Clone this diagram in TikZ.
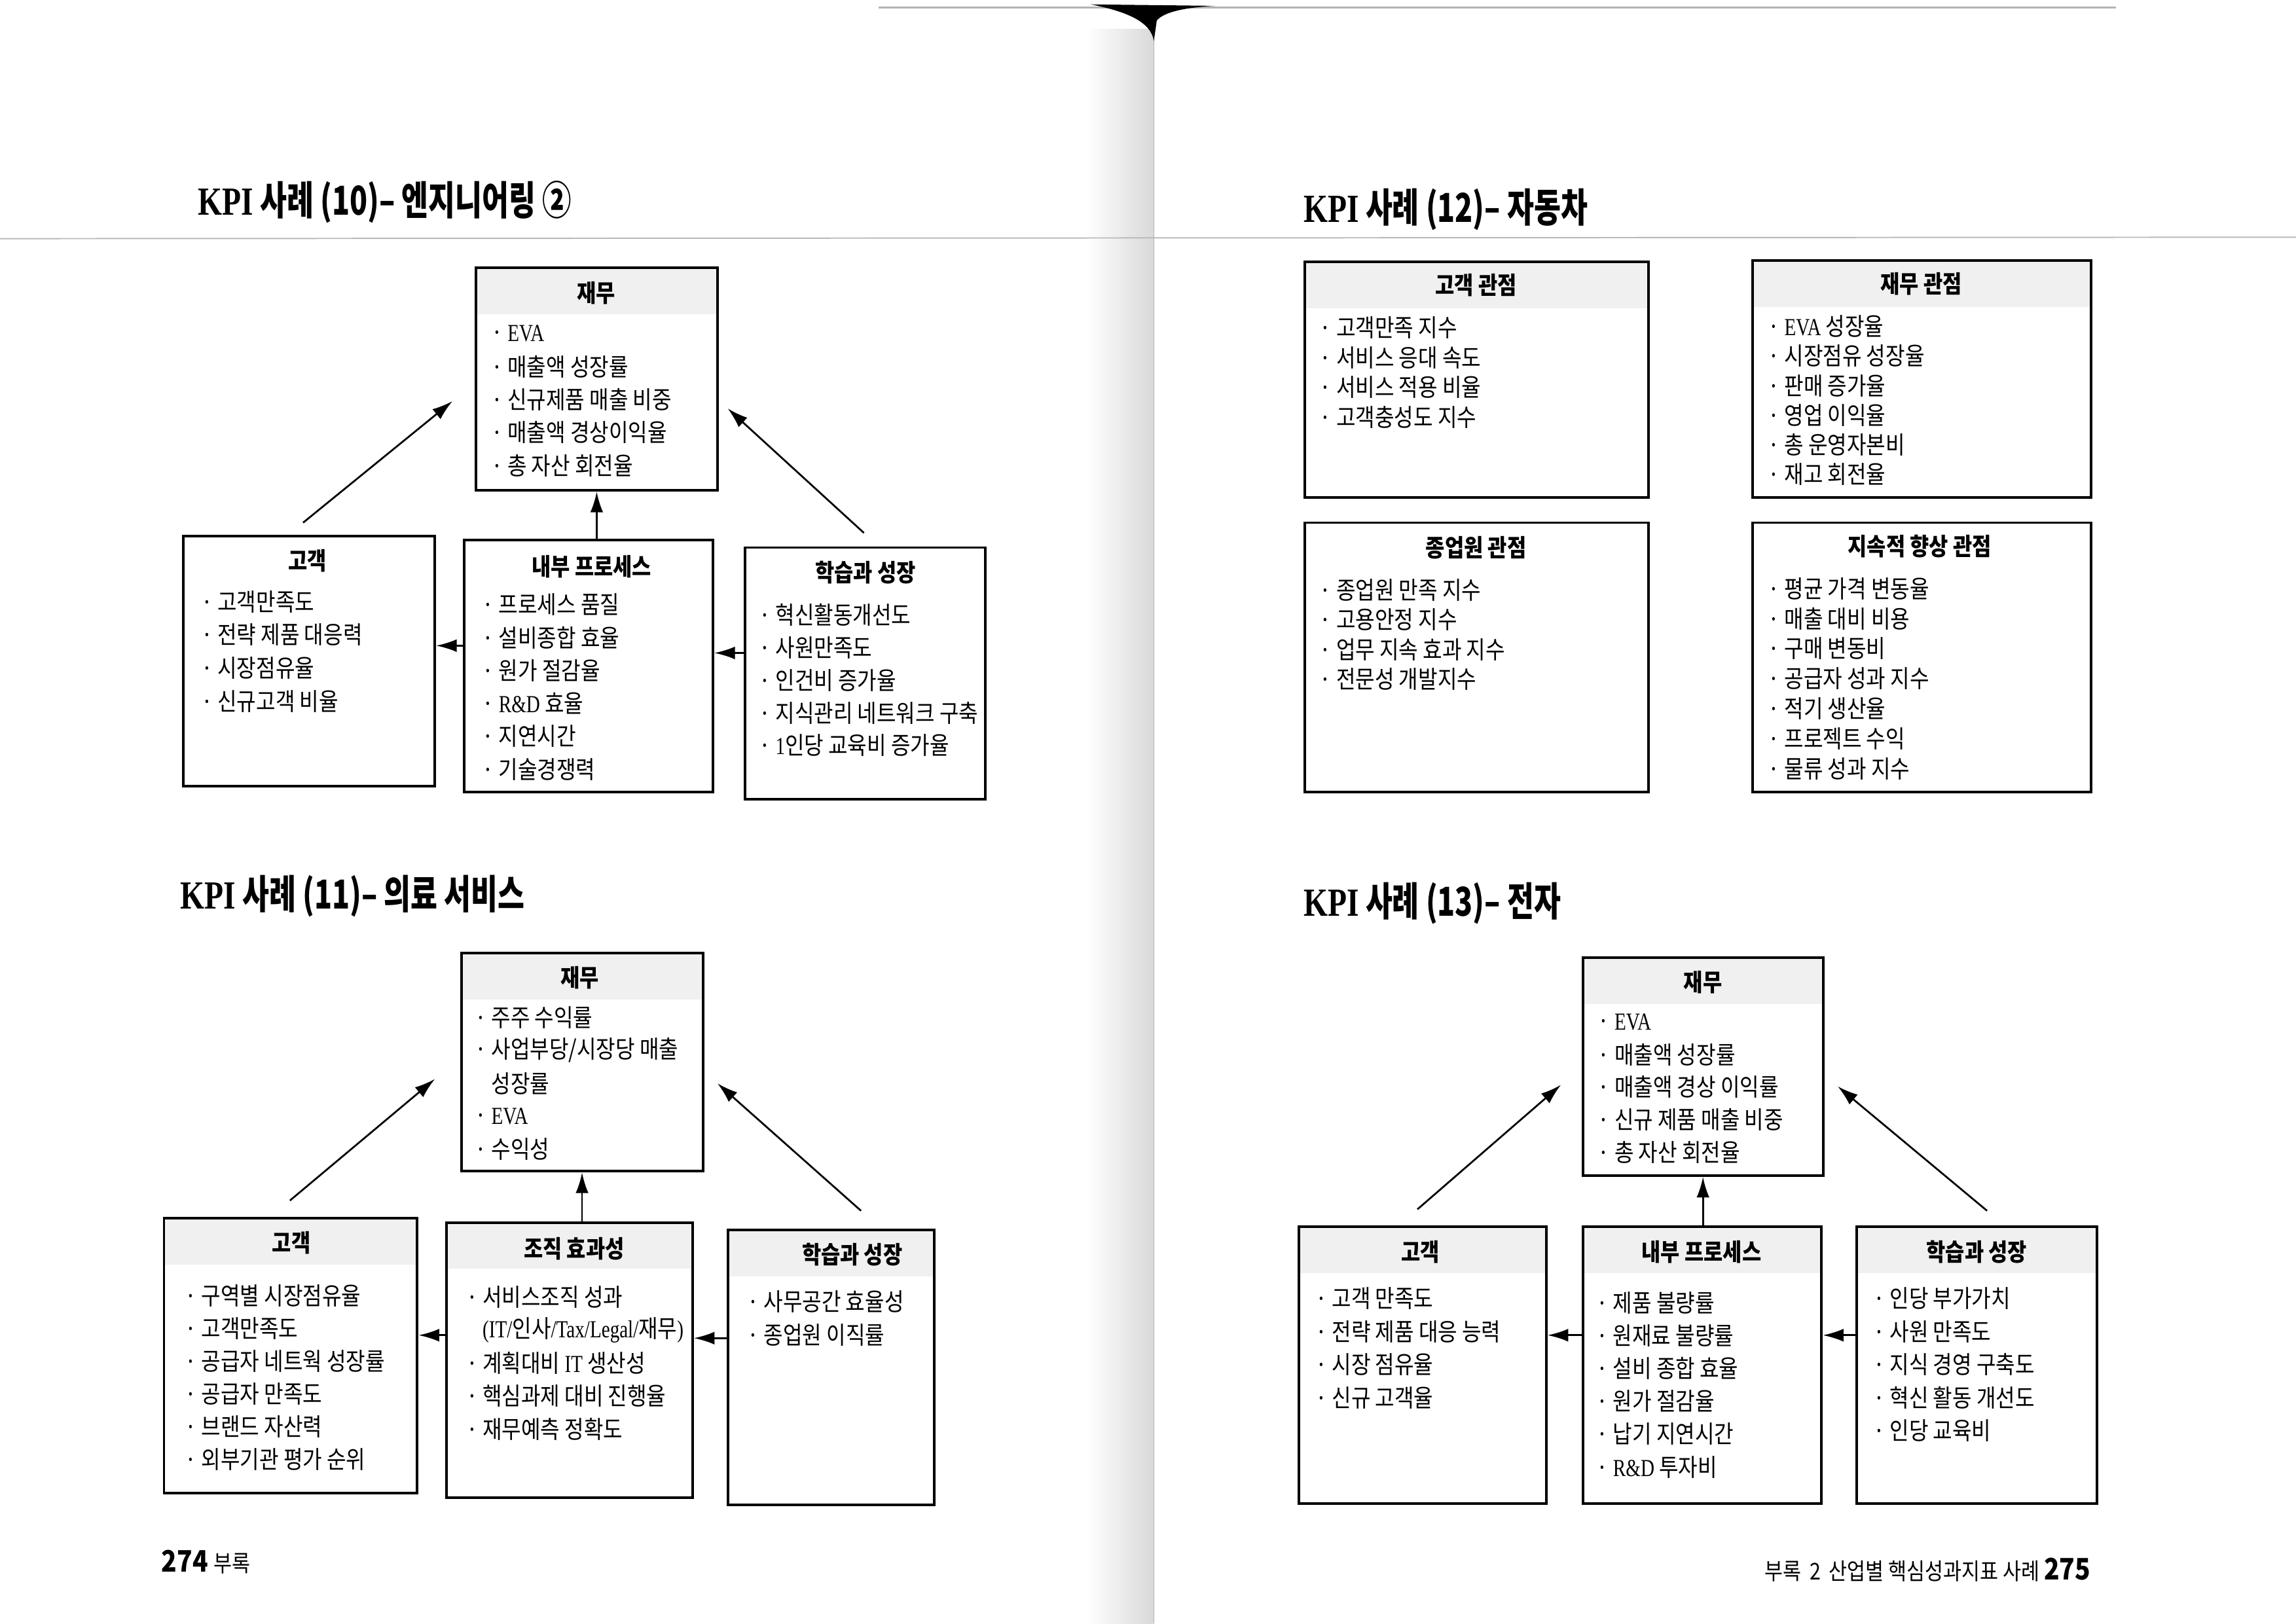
\documentclass[tikz,border=0pt]{standalone}
\usepackage{fontspec}
\setmainfont{Noto Sans CJK KR}[FakeStretch=0.86]
\newfontfamily\ttlfont{Noto Sans CJK KR}[FakeStretch=0.73]
\newfontfamily\latnfam{Liberation Serif}[FakeStretch=0.78]
\newcommand\lat[1]{{\latnfam #1}}
\usetikzlibrary{arrows.meta,fit}
\newcommand\kitems[5]{\foreach \t [count=\i] in {#5}{\node[itm] (#1-\i) at (#2,{#3+(\i-1)*#4}) {\t};}}
\tikzset{
 box/.style={draw, line width=1pt, inner sep=0pt, rectangle},
 shd/.style={path picture={\fill[gray!12] (path picture bounding box.north west) rectangle ([yshift=-18pt]path picture bounding box.north east);}},
 hdr/.style={font=\bfseries\fontsize{9.4}{11}\selectfont, inner sep=0pt},
 itm/.style={anchor=west, inner sep=0pt, font=\fontsize{9.5}{11}\selectfont},
 ttl/.style={anchor=west, inner sep=0pt, font=\ttlfont\bfseries\fontsize{15.5}{16}\selectfont},
 arr/.style={line width=0.7pt, -{Latex[length=8pt,width=5pt]}},
}
\begin{document}
\begin{tikzpicture}[x=0.02cm, y=-0.02cm]
\fill[white] (0,0) rectangle (1568,1109);
\useasboundingbox (0,0) rectangle (1568,1109);
% spine and scan edges
\shade[left color=white, right color=gray!30] (742,20) rectangle (788,1109);
\draw[gray!60, line width=0.4pt] (788,25) -- (788,1109);
\draw[gray!60, line width=0.8pt] (600,5) -- (1445,5);
\fill (745,3) .. controls (770,8) and (786,15) .. (788,28) -- (790,14) .. controls (795,8) and (810,5) .. (830,4) -- cycle;
\draw[gray!55, line width=0.5pt] (0,163) -- (1568,162);

% ================= KPI 10 =================
\node[ttl] (t10) at (135,138) {\lat{\bfseries KPI} 사례 (10)– 엔지니어링 ②};
\node[box, shd, fit={(325,183) (490,335)}] (fin10) {};
\node[hdr] (fin10h) at (407,200) {재무};
\kitems{fin10}{335}{228}{22.5}{· \lat{EVA}, · 매출액 성장률, · 신규제품 매출 비중, · 매출액 경상이익율, · 총 자산 회전율}
\node[box, fit={(125,366) (297,537)}] (cus10) {};
\node[hdr] (cus10h) at (210,383) {고객};
\kitems{cus10}{137}{411}{22.7}{· 고객만족도, · 전략 제품 대응력, · 시장점유율, · 신규고객 비율}
\node[box, fit={(317,369) (487,541)}] (int10) {};
\node[hdr] (int10h) at (404,387) {내부 프로세스};
\kitems{int10}{329}{413}{22.5}{· 프로세스 품질, · 설비종합 효율, · 원가 절감율, · \lat{R\&D} 효율, · 지연시간, · 기술경쟁력}
\node[box, fit={(509,374) (673,546)}] (lrn10) {};
\node[hdr] (lrn10h) at (591,391) {학습과 성장};
\kitems{lrn10}{518}{420}{22.3}{· 혁신활동개선도, · 사원만족도, · 인건비 증가율, · 지식관리 네트워크 구축, · \lat{1}인당 교육비 증가율}
\coordinate (a10ls) at (207,357); \coordinate (a10le) at (309,274);
\coordinate (a10rs) at (590,364); \coordinate (a10re) at (497,279);
\coordinate (h10a) at (0,441); \coordinate (h10b) at (0,446);
\draw[arr] (a10ls) -- (a10le);
\draw[arr] (a10rs) -- (a10re);
\draw[arr] (int10.north -| fin10.south) -- (fin10.south);
\draw[arr] (int10.west |- h10a) -- (cus10.east |- h10a);
\draw[arr] (lrn10.west |- h10b) -- (int10.east |- h10b);

% ================= KPI 11 =================
\node[ttl] (t11) at (123,612) {\lat{\bfseries KPI} 사례 (11)– 의료 서비스};
\node[box, shd, fit={(315,651) (480,800)}] (fin11) {};
\node[hdr] (fin11h) at (396,668) {재무};
\kitems{fin11}{324}{695}{22.5}{· 주주 수익률, · 사업부당/시장당 매출, \phantom{· }성장률, · \lat{EVA}, · 수익성}
\node[box, shd, fit={(112,832) (285,1020)}] (cus11) {};
\node[hdr] (cus11h) at (199,849) {고객};
\kitems{cus11}{126}{885}{22.4}{· 구역별 시장점유율, · 고객만족도, · 공급자 네트웍 성장률, · 공급자 만족도, · 브랜드 자산력, · 외부기관 평가 순위}
\node[box, shd, fit={(305,835) (473,1023)}] (org11) {};
\node[hdr] (org11h) at (392,853) {조직 효과성};
\kitems{org11}{318}{886}{22.5}{· 서비스조직 성과, \phantom{· }\lat{(IT/}인사\lat{/Tax/Legal/}재무\lat{)}, · 계획대비 \lat{IT} 생산성, · 핵심과제 대비 진행율, · 재무예측 정확도}
\node[box, shd, fit={(497,840) (638,1028)}] (lrn11) {};
\node[hdr] (lrn11h) at (582,857) {학습과 성장};
\kitems{lrn11}{510}{889}{23}{· 사무공간 효율성, · 종업원 이직률}
\coordinate (a11ls) at (198,820); \coordinate (a11le) at (297,737);
\coordinate (a11rs) at (588,827); \coordinate (a11re) at (490,740);
\coordinate (h11a) at (0,912); \coordinate (h11b) at (0,914);
\draw[arr] (a11ls) -- (a11le);
\draw[arr] (a11rs) -- (a11re);
\draw[arr] (org11.north -| fin11.south) -- (fin11.south);
\draw[arr] (org11.west |- h11a) -- (cus11.east |- h11a);
\draw[arr] (lrn11.west |- h11b) -- (org11.east |- h11b);

% ================= KPI 12 =================
\node[ttl] (t12) at (890,143) {\lat{\bfseries KPI} 사례 (12)– 자동차};
\node[box, shd, fit={(891,179) (1126,340)}] (cus12) {};
\node[hdr] (cus12h) at (1008,195) {고객 관점};
\kitems{cus12}{901}{224}{20.3}{· 고객만족 지수, · 서비스 응대 속도, · 서비스 적용 비율, · 고객충성도 지수}
\node[box, shd, fit={(1197,178) (1428,340)}] (fin12) {};
\node[hdr] (fin12h) at (1312,194) {재무 관점};
\kitems{fin12}{1207}{223}{20.2}{· \lat{EVA} 성장율, · 시장점유 성장율, · 판매 증가율, · 영업 이익율, · 총 운영자본비, · 재고 회전율}
\node[box, fit={(891,357) (1126,541)}] (emp12) {};
\node[hdr] (emp12h) at (1008,374) {종업원 관점};
\kitems{emp12}{901}{403}{20.3}{· 종업원 만족 지수, · 고용안정 지수, · 업무 지속 효과 지수, · 전문성 개발지수}
\node[box, fit={(1197,357) (1428,541)}] (imp12) {};
\node[hdr] (imp12h) at (1311,373) {지속적 향상 관점};
\kitems{imp12}{1207}{402}{20.5}{· 평균 가격 변동율, · 매출 대비 비용, · 구매 변동비, · 공급자 성과 지수, · 적기 생산율, · 프로젝트 수익, · 물류 성과 지수}

% ================= KPI 13 =================
\node[ttl] (t13) at (890,617) {\lat{\bfseries KPI} 사례 (13)– 전자};
\node[box, shd, fit={(1081,654) (1245,803)}] (fin13) {};
\node[hdr] (fin13h) at (1163,671) {재무};
\kitems{fin13}{1091}{698}{22.3}{· \lat{EVA}, · 매출액 성장률, · 매출액 경상 이익률, · 신규 제품 매출 비중, · 총 자산 회전율}
\node[box, shd, fit={(887,838) (1056,1027)}] (cus13) {};
\node[hdr] (cus13h) at (970,855) {고객};
\kitems{cus13}{898}{887}{22.6}{· 고객 만족도, · 전략 제품 대응 능력, · 시장 점유율, · 신규 고객율}
\node[box, shd, fit={(1081,838) (1244,1027)}] (int13) {};
\node[hdr] (int13h) at (1162,855) {내부 프로세스};
\kitems{int13}{1090}{890}{22.4}{· 제품 불량률, · 원재료 불량률, · 설비 종합 효율, · 원가 절감율, · 납기 지연시간, · \lat{R\&D} 투자비}
\node[box, shd, fit={(1268,838) (1432,1027)}] (lrn13) {};
\node[hdr] (lrn13h) at (1350,855) {학습과 성장};
\kitems{lrn13}{1279}{887}{22.5}{· 인당 부가가치, · 사원 만족도, · 지식 경영 구축도, · 혁신 활동 개선도, · 인당 교육비}
\coordinate (a13ls) at (968,826); \coordinate (a13le) at (1066,741);
\coordinate (a13rs) at (1357,827); \coordinate (a13re) at (1255,742);
\coordinate (h13a) at (0,912);
\draw[arr] (a13ls) -- (a13le);
\draw[arr] (a13rs) -- (a13re);
\draw[arr] (int13.north -| fin13.south) -- (fin13.south);
\draw[arr] (int13.west |- h13a) -- (cus13.east |- h13a);
\draw[arr] (lrn13.west |- h13a) -- (int13.east |- h13a);

% ================= footers =================
\node[anchor=west, inner sep=0pt] (p274) at (110,1067) {\bfseries\fontsize{11.5}{12}\selectfont 274 \mdseries\fontsize{9}{10}\selectfont 부록};
\node[anchor=east, inner sep=0pt] (p275) at (1428,1072) {\fontsize{9}{10}\selectfont 부록 \,2\, 산업별 핵심성과지표 사례 \bfseries\fontsize{11.5}{12}\selectfont 275};
\end{tikzpicture}
\end{document}
